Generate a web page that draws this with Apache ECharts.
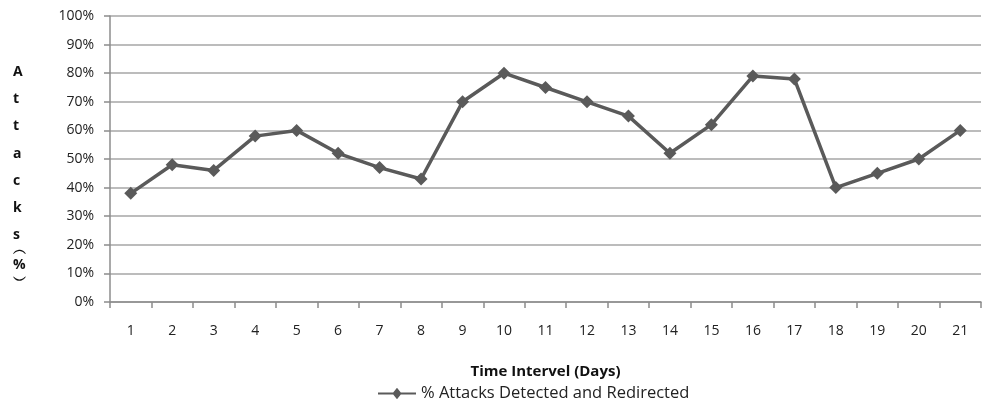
<!DOCTYPE html>
<html>
<head>
<meta charset="utf-8">
<script src="https://cdn.jsdelivr.net/npm/echarts@6/dist/echarts.min.js"></script>
<style>
html,body{margin:0;padding:0;background:#fff;}
#main{width:983px;height:407px;}
</style>
</head>
<body>
<div id="main"></div>
<script>
const categories = ['1','2','3','4','5','6','7','8','9','10','11','12','13','14','15','16','17','18','19','20','21'];
const attacksDetected = [38, 48, 46, 58, 60, 52, 47, 43, 70, 80, 75, 70, 65, 52, 62, 79, 78, 40, 45, 50, 60];
const seriesName = '% Attacks Detected and Redirected';
const xTitle = 'Time Intervel (Days)';
const yTitleLetters = ['A','t','t','a','c','k','s'];
const yTitleUnit = ['︵','%','︶'];

const font = '"Open Sans", Lato, "Liberation Sans", sans-serif';
const chart = echarts.init(document.getElementById('main'), null, {renderer:'canvas'});

chart.setOption({
  animation:false,
  backgroundColor:'#fff',
  grid:{left:110, right:2, top:16, bottom:105, containLabel:false},
  legend:{
    data:[{name:seriesName, icon:'path://M0,5 L16,5 L20,0 L24,5 L40,5 L40,7 L24,7 L20,12 L16,7 L0,7 Z'}],
    left:378, top:385, itemWidth:38, itemHeight:12, itemGap:4, padding:0,
    textStyle:{fontFamily:font, fontSize:16.5, color:'#222'}
  },
  xAxis:{
    type:'category', data:categories, boundaryGap:true,
    name:xTitle, nameLocation:'middle', nameGap:62,
    nameTextStyle:{fontFamily:font, fontSize:15, fontWeight:'bold', color:'#111'},
    axisLine:{lineStyle:{color:'#8c8c8c', width:1.5}},
    axisTick:{show:true, inside:false, length:6, alignWithLabel:false, lineStyle:{color:'#8c8c8c', width:1.5}},
    axisLabel:{fontFamily:font, fontSize:14, color:'#222', margin:22}
  },
  yAxis:{
    type:'value', min:0, max:100, interval:10,
    axisLine:{show:true, lineStyle:{color:'#8c8c8c', width:1.5}},
    axisTick:{show:true, length:6, lineStyle:{color:'#8c8c8c', width:1.5}},
    splitLine:{lineStyle:{color:'#a6a6a6', width:1.5}},
    axisLabel:{formatter:'{value}%', fontFamily:font, fontSize:14, color:'#222', margin:16}
  },
  graphic:[{
    type:'text', left:13, top:58,
    style:{text:yTitleLetters.join('\n'), font:'bold 14px '+font, fill:'#111', lineHeight:27.3, align:'center', width:16}
  }, {
    type:'text', left:13, top:242,
    style:{text:yTitleUnit.join('\n'), font:'bold 14px '+font, fill:'#111', lineHeight:15.5, align:'center', width:16}
  }],
  series:[{
    name:seriesName, type:'line', data:attacksDetected,
    symbol:'diamond', symbolSize:13,
    lineStyle:{color:'#5a5a5a', width:3.5},
    itemStyle:{color:'#5a5a5a'}
  }]
});
</script>
</body>
</html>
